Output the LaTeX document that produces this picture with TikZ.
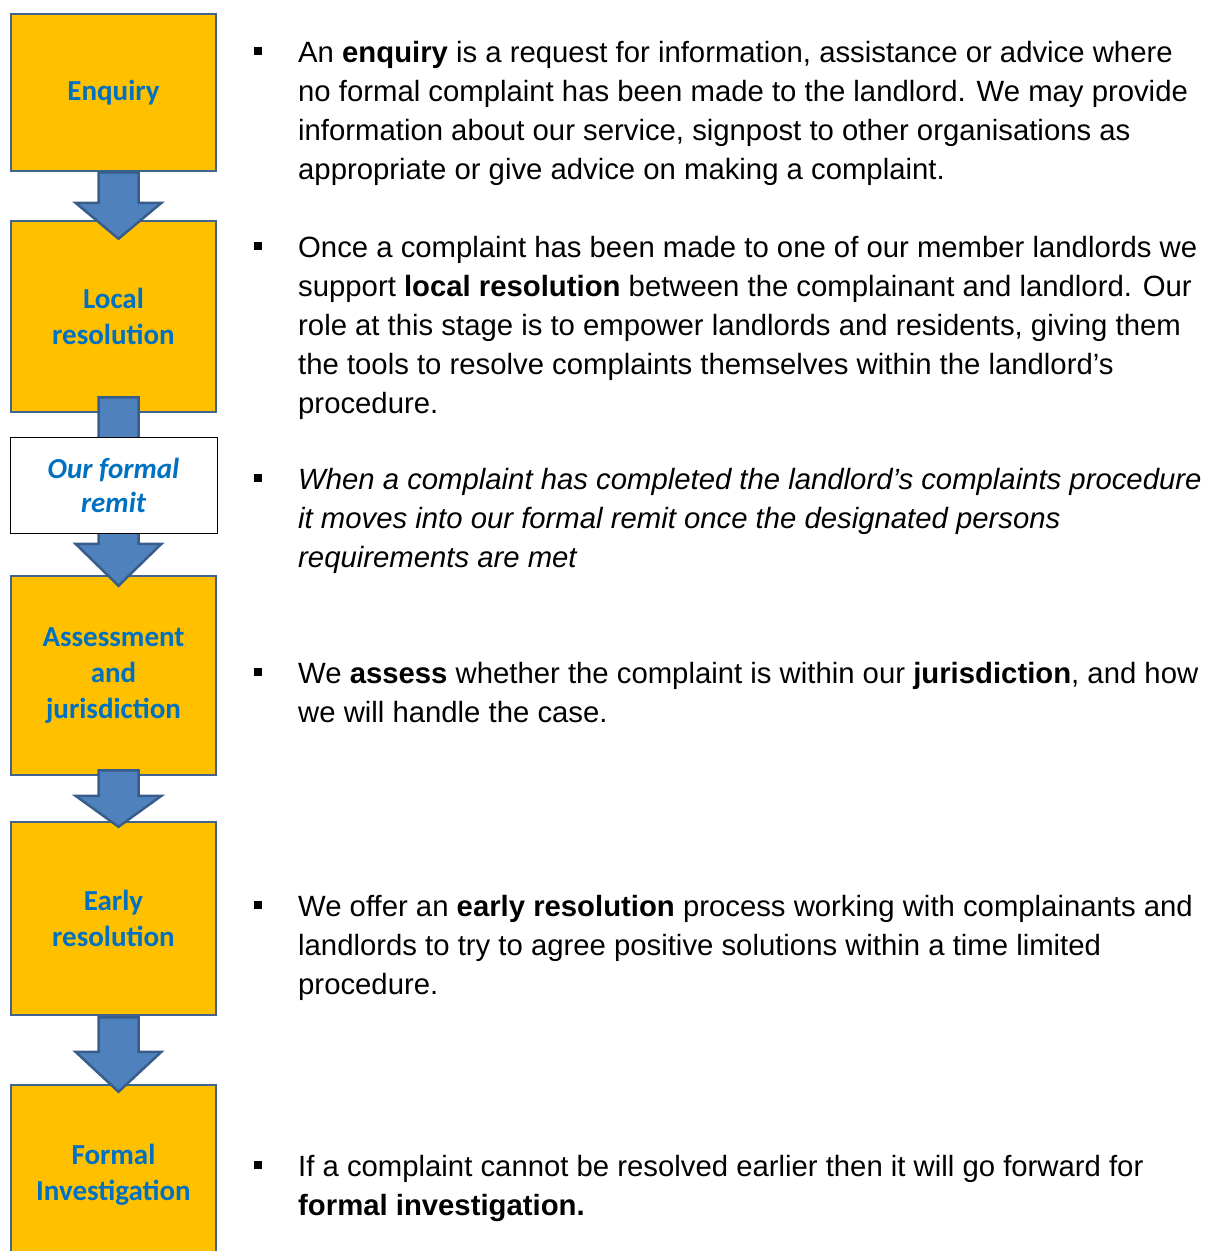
\documentclass[tikz,border=0pt]{standalone}
\usepackage{fontspec}
\setmainfont{Liberation Sans}
\newfontfamily\boxfont{Carlito}
\usepackage{tikz}
\usetikzlibrary{positioning,calc}
\definecolor{gold}{HTML}{FFC000}
\definecolor{boxline}{HTML}{41638F}
\definecolor{arrowfill}{HTML}{4F81BD}
\definecolor{arrowline}{HTML}{385D8A}
\definecolor{stagetext}{HTML}{0070C0}
\newcommand{\blockarrow}[5]{%
  \draw[blockarrow] ($(#1.south)+(-15,#3)$) -- ($(#2.north)+(-15,#4-#5)$)
    -- ($(#2.north)+(-38,#4-#5)$) -- ($(#2.north)+(5,#4)$)
    -- ($(#2.north)+(48,#4-#5)$) -- ($(#2.north)+(25,#4-#5)$)
    -- ($(#1.south)+(25,#3)$) -- cycle;}

\begin{document}
\begin{tikzpicture}[x=1pt,y=-1pt,
      stage/.style={rectangle,draw=boxline,line width=2.5pt,fill=gold,minimum width=205pt,
        inner sep=0pt,align=center,text=stagetext,font=\boxfont\bfseries\fontsize{29}{36}\selectfont},
      remit/.style={rectangle,draw=black,line width=0.8pt,fill=white,minimum width=207pt,minimum height=96pt,
        inner sep=0pt,align=center,text=stagetext,font=\boxfont\bfseries\itshape\fontsize{29}{34}\selectfont},
      blockarrow/.style={draw=arrowline,fill=arrowfill,line width=2.5pt,line join=miter},
      sq/.style={rectangle,fill=black,minimum size=8pt,inner sep=0pt},
      para/.style={anchor=base west,align=left,inner sep=0pt,font=\fontsize{29.3}{39}\selectfont}]
    \clip (0,0) rectangle (1212,1251);
    \node[stage,minimum height=157pt] (enq) at (113.5,92.5) {Enquiry};
    \node[stage,minimum height=191pt] (loc) at (113.5,316.5) {Local\\resolution};
    \node[stage,minimum height=199pt] (ass) at (113.5,675.5) {Assessment\\and\\jurisdiction};
    \node[stage,minimum height=193pt] (early) at (113.5,918.5) {Early\\resolution};
    \node[stage,minimum height=180pt] (form) at (113.5,1175) {Formal\\Investigation};
    \blockarrow{enq}{loc}{0}{19}{36}
    \blockarrow{loc}{ass}{-16}{11}{42}
    \blockarrow{ass}{early}{-6}{6}{31}
    \blockarrow{early}{form}{1}{8}{40}
    \node[remit] (rem) at (113.5,485) {Our formal\\remit};
    \foreach \i/\y in {1/51,2/246,3/478,4/672,5/905,6/1165} {
      \node[sq] (b\i) at (258,\y) {};
    }
    \node[para] (t1) at (298,179) {An \textbf{enquiry} is a request for information, assistance or advice where\\
      no formal complaint has been made to the landlord. We may provide\\
      information about our service, signpost to other organisations as\\
      appropriate or give advice on making a complaint.};
    \node[para] (t2) at (298,413) {Once a complaint has been made to one of our member landlords we\\
      support \textbf{local resolution} between the complainant and landlord. Our\\
      role at this stage is to empower landlords and residents, giving them\\
      the tools to resolve complaints themselves within the landlord’s\\
      procedure.};
    \node[para,font=\fontsize{29.3}{39}\selectfont\itshape] (t3) at (298,567) {When a complaint has completed the landlord’s complaints procedure\\
      it moves into our formal remit once the designated persons\\
      requirements are met};
    \node[para] (t4) at (298,722) {We \textbf{assess} whether the complaint is within our \textbf{jurisdiction}, and how\\
      we will handle the case.};
    \node[para] (t5) at (298,994) {We offer an \textbf{early resolution} process working with complainants and\\
      landlords to try to agree positive solutions within a time limited\\
      procedure.};
    \node[para] (t6) at (298,1215) {If a complaint cannot be resolved earlier then it will go forward for\\
      \textbf{formal investigation.}};
  \end{tikzpicture}
\end{document}
